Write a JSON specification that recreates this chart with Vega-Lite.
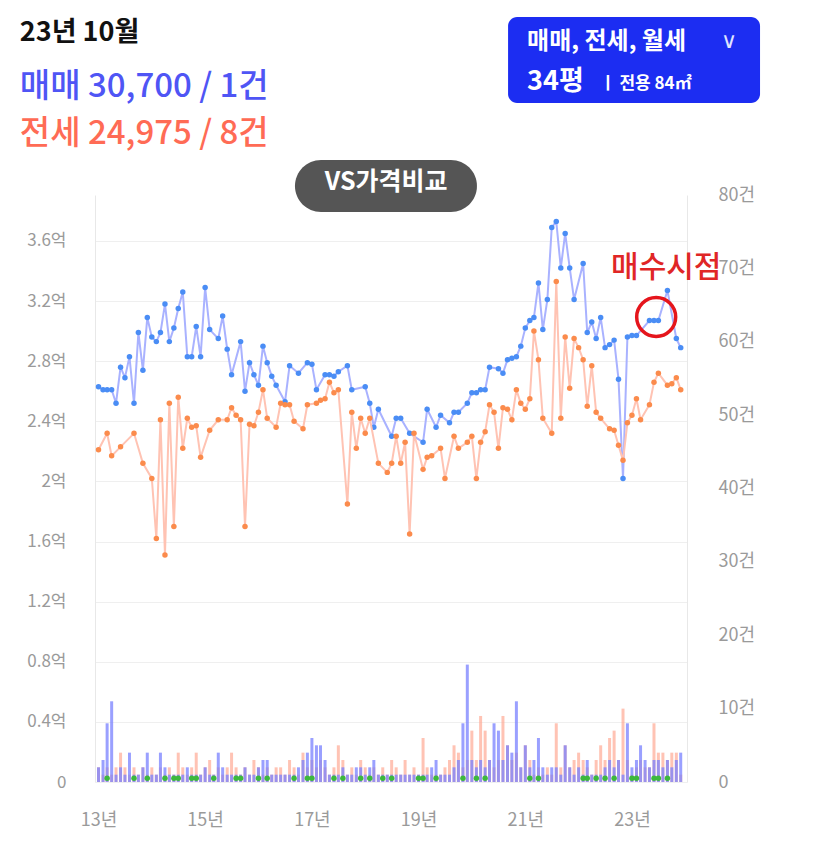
{
  "$schema": "https://vega.github.io/schema/vega-lite/v6.json",
  "width": 592,
  "height": 587,
  "autosize": {"type": "none"},
  "padding": {"left": 95, "top": 195, "right": 140, "bottom": 72},
  "background": "white",
  "config": {
    "view": {"stroke": null},
    "font": "Noto Sans CJK KR",
    "axis": {"ticks": false, "labelFont": "Noto Sans CJK KR", "labelColor": "#9a9a9a", "labelFontSize": 17, "domainColor": "#e8e8e8", "gridColor": "#efefef", "title": null}
  },
  "datasets": {
    "sale": [
      {"d":"2013-01-01","p":2.63},{"d":"2013-02-01","p":2.61},{"d":"2013-03-01","p":2.61},{"d":"2013-04-01","p":2.61},{"d":"2013-05-01","p":2.52},{"d":"2013-06-01","p":2.76},{"d":"2013-07-01","p":2.69},{"d":"2013-08-01","p":2.83},{"d":"2013-09-01","p":2.52},{"d":"2013-10-01","p":2.99},{"d":"2013-11-01","p":2.74},{"d":"2013-12-01","p":3.09},
      {"d":"2014-01-01","p":2.96},{"d":"2014-02-01","p":2.93},{"d":"2014-03-01","p":2.99},{"d":"2014-04-01","p":3.18},{"d":"2014-05-01","p":2.93},{"d":"2014-06-01","p":3.02},{"d":"2014-07-01","p":3.15},{"d":"2014-08-01","p":3.26},{"d":"2014-09-01","p":2.83},{"d":"2014-10-01","p":2.83},{"d":"2014-11-01","p":3.03},{"d":"2014-12-01","p":2.83},
      {"d":"2015-01-01","p":3.29},{"d":"2015-02-01","p":3.01},{"d":"2015-04-01","p":2.95},{"d":"2015-05-01","p":3.10},{"d":"2015-06-01","p":2.88},{"d":"2015-07-01","p":2.71},{"d":"2015-09-01","p":2.93},{"d":"2015-10-01","p":2.60},{"d":"2015-11-01","p":2.79},{"d":"2015-12-01","p":2.71},
      {"d":"2016-01-01","p":2.64},{"d":"2016-02-01","p":2.90},{"d":"2016-03-01","p":2.79},{"d":"2016-04-01","p":2.70},{"d":"2016-05-01","p":2.64},{"d":"2016-07-01","p":2.53},{"d":"2016-08-01","p":2.77},{"d":"2016-10-01","p":2.72},{"d":"2016-12-01","p":2.79},
      {"d":"2017-01-01","p":2.78},{"d":"2017-02-01","p":2.61},{"d":"2017-04-01","p":2.71},{"d":"2017-05-01","p":2.71},{"d":"2017-06-01","p":2.70},{"d":"2017-07-01","p":2.73},{"d":"2017-09-01","p":2.77},{"d":"2017-10-01","p":2.61},
      {"d":"2018-01-01","p":2.63},{"d":"2018-02-01","p":2.52},{"d":"2018-03-01","p":2.36},{"d":"2018-04-01","p":2.48},{"d":"2018-07-01","p":2.30},{"d":"2018-08-01","p":2.42},{"d":"2018-09-01","p":2.42},{"d":"2018-11-01","p":2.32},
      {"d":"2019-02-01","p":2.26},{"d":"2019-03-01","p":2.48},{"d":"2019-05-01","p":2.36},{"d":"2019-06-01","p":2.44},{"d":"2019-08-01","p":2.39},{"d":"2019-09-01","p":2.46},{"d":"2019-10-01","p":2.46},{"d":"2019-12-01","p":2.52},
      {"d":"2020-01-01","p":2.59},{"d":"2020-02-01","p":2.59},{"d":"2020-03-01","p":2.61},{"d":"2020-04-01","p":2.61},{"d":"2020-05-01","p":2.76},{"d":"2020-07-01","p":2.75},{"d":"2020-08-01","p":2.72},{"d":"2020-09-01","p":2.81},{"d":"2020-10-01","p":2.82},{"d":"2020-11-01","p":2.83},{"d":"2020-12-01","p":2.90},
      {"d":"2021-01-01","p":3.02},{"d":"2021-02-01","p":3.07},{"d":"2021-03-01","p":3.09},{"d":"2021-04-01","p":3.32},{"d":"2021-05-01","p":3.01},{"d":"2021-06-01","p":3.21},{"d":"2021-07-01","p":3.69},{"d":"2021-08-01","p":3.73},{"d":"2021-09-01","p":3.42},{"d":"2021-10-01","p":3.65},{"d":"2021-11-01","p":3.42},{"d":"2021-12-01","p":3.21},
      {"d":"2022-02-01","p":3.45},{"d":"2022-03-01","p":2.99},{"d":"2022-04-01","p":3.06},{"d":"2022-05-01","p":2.95},{"d":"2022-06-01","p":3.09},{"d":"2022-07-01","p":2.89},{"d":"2022-08-01","p":2.91},{"d":"2022-09-01","p":2.94},{"d":"2022-10-01","p":2.68},{"d":"2022-11-01","p":2.02},{"d":"2022-12-01","p":2.96},
      {"d":"2023-01-01","p":2.97},{"d":"2023-02-01","p":2.97},{"d":"2023-05-01","p":3.07},{"d":"2023-06-01","p":3.07},{"d":"2023-07-01","p":3.07},{"d":"2023-09-01","p":3.27},{"d":"2023-11-01","p":2.95},{"d":"2023-12-01","p":2.89}
    ],
    "jeonse": [
      {"d":"2013-01-01","p":2.21},{"d":"2013-03-01","p":2.32},{"d":"2013-04-01","p":2.17},{"d":"2013-06-01","p":2.23},{"d":"2013-09-01","p":2.32},{"d":"2013-11-01","p":2.12},
      {"d":"2014-01-01","p":2.02},{"d":"2014-02-01","p":1.62},{"d":"2014-03-01","p":2.41},{"d":"2014-04-01","p":1.51},{"d":"2014-05-01","p":2.52},{"d":"2014-06-01","p":1.70},{"d":"2014-07-01","p":2.56},{"d":"2014-08-01","p":2.22},{"d":"2014-09-01","p":2.42},{"d":"2014-10-01","p":2.36},{"d":"2014-11-01","p":2.37},{"d":"2014-12-01","p":2.16},
      {"d":"2015-02-01","p":2.34},{"d":"2015-04-01","p":2.41},{"d":"2015-06-01","p":2.41},{"d":"2015-07-01","p":2.49},{"d":"2015-08-01","p":2.44},{"d":"2015-09-01","p":2.41},{"d":"2015-10-01","p":1.70},{"d":"2015-11-01","p":2.38},{"d":"2015-12-01","p":2.37},
      {"d":"2016-01-01","p":2.46},{"d":"2016-02-01","p":2.61},{"d":"2016-03-01","p":2.42},{"d":"2016-05-01","p":2.36},{"d":"2016-06-01","p":2.52},{"d":"2016-07-01","p":2.51},{"d":"2016-08-01","p":2.51},{"d":"2016-09-01","p":2.40},{"d":"2016-11-01","p":2.35},{"d":"2016-12-01","p":2.51},
      {"d":"2017-02-01","p":2.52},{"d":"2017-03-01","p":2.54},{"d":"2017-04-01","p":2.55},{"d":"2017-05-01","p":2.66},{"d":"2017-06-01","p":2.59},{"d":"2017-07-01","p":2.61},{"d":"2017-09-01","p":1.85},{"d":"2017-10-01","p":2.46},{"d":"2017-11-01","p":2.22},{"d":"2017-12-01","p":2.42},
      {"d":"2018-01-01","p":2.32},{"d":"2018-02-01","p":2.42},{"d":"2018-04-01","p":2.12},{"d":"2018-06-01","p":2.06},{"d":"2018-07-01","p":2.12},{"d":"2018-08-01","p":2.30},{"d":"2018-09-01","p":2.12},{"d":"2018-10-01","p":2.26},{"d":"2018-11-01","p":1.65},{"d":"2018-12-01","p":2.32},
      {"d":"2019-02-01","p":2.08},{"d":"2019-03-01","p":2.16},{"d":"2019-04-01","p":2.17},{"d":"2019-06-01","p":2.22},{"d":"2019-07-01","p":2.02},{"d":"2019-09-01","p":2.30},{"d":"2019-10-01","p":2.22},{"d":"2019-12-01","p":2.26},
      {"d":"2020-01-01","p":2.30},{"d":"2020-02-01","p":2.02},{"d":"2020-03-01","p":2.26},{"d":"2020-04-01","p":2.33},{"d":"2020-05-01","p":2.51},{"d":"2020-06-01","p":2.46},{"d":"2020-07-01","p":2.22},{"d":"2020-08-01","p":2.49},{"d":"2020-09-01","p":2.48},{"d":"2020-10-01","p":2.41},{"d":"2020-11-01","p":2.61},{"d":"2020-12-01","p":2.52},
      {"d":"2021-01-01","p":2.48},{"d":"2021-02-01","p":2.55},{"d":"2021-03-01","p":3.00},{"d":"2021-04-01","p":2.81},{"d":"2021-05-01","p":2.42},{"d":"2021-07-01","p":2.32},{"d":"2021-08-01","p":3.33},{"d":"2021-09-01","p":2.42},{"d":"2021-10-01","p":2.96},{"d":"2021-11-01","p":2.62},{"d":"2021-12-01","p":2.95},
      {"d":"2022-01-01","p":2.89},{"d":"2022-02-01","p":2.81},{"d":"2022-03-01","p":2.50},{"d":"2022-04-01","p":2.77},{"d":"2022-05-01","p":2.46},{"d":"2022-06-01","p":2.42},{"d":"2022-08-01","p":2.35},{"d":"2022-09-01","p":2.34},{"d":"2022-10-01","p":2.24},{"d":"2022-11-01","p":2.14},{"d":"2022-12-01","p":2.39},
      {"d":"2023-01-01","p":2.44},{"d":"2023-02-01","p":2.55},{"d":"2023-03-01","p":2.41},{"d":"2023-05-01","p":2.51},{"d":"2023-06-01","p":2.66},{"d":"2023-07-01","p":2.72},{"d":"2023-09-01","p":2.64},{"d":"2023-10-01","p":2.65},{"d":"2023-11-01","p":2.69},{"d":"2023-12-01","p":2.61}
    ],
    "rent": [
      {"d":"2013-03-01","p":0.025},{"d":"2013-09-01","p":0.025},{"d":"2013-12-01","p":0.025},{"d":"2014-04-01","p":0.025},{"d":"2014-06-01","p":0.025},{"d":"2014-07-01","p":0.025},{"d":"2014-10-01","p":0.025},{"d":"2014-11-01","p":0.025},{"d":"2015-03-01","p":0.025},{"d":"2015-08-01","p":0.025},{"d":"2015-09-01","p":0.025},{"d":"2016-01-01","p":0.025},{"d":"2016-03-01","p":0.025},{"d":"2016-09-01","p":0.025},{"d":"2016-12-01","p":0.025},{"d":"2017-01-01","p":0.025},{"d":"2017-06-01","p":0.025},{"d":"2017-08-01","p":0.025},{"d":"2017-12-01","p":0.025},{"d":"2018-02-01","p":0.025},{"d":"2018-05-01","p":0.025},{"d":"2018-07-01","p":0.025},{"d":"2019-01-01","p":0.025},{"d":"2019-02-01","p":0.025},{"d":"2019-05-01","p":0.025},{"d":"2019-11-01","p":0.025},{"d":"2020-02-01","p":0.025},{"d":"2020-04-01","p":0.025},{"d":"2021-02-01","p":0.025},{"d":"2021-04-01","p":0.025},{"d":"2022-02-01","p":0.025},{"d":"2022-03-01","p":0.025},{"d":"2022-05-01","p":0.025},{"d":"2022-07-01","p":0.025},{"d":"2022-09-01","p":0.025},{"d":"2023-01-01","p":0.025},{"d":"2023-02-01","p":0.025},{"d":"2023-06-01","p":0.025},{"d":"2023-07-01","p":0.025},{"d":"2023-09-01","p":0.025}
    ],
    "cnt": [
      {"d":"2013-01-01","s":2,"j":2},{"d":"2013-02-01","s":3,"j":1},{"d":"2013-03-01","s":8,"j":2},{"d":"2013-04-01","s":11,"j":1},{"d":"2013-05-01","s":1,"j":2},{"d":"2013-06-01","s":2,"j":4},{"d":"2013-07-01","s":1,"j":2},{"d":"2013-08-01","s":4,"j":1},{"d":"2013-09-01","s":1,"j":2},{"d":"2013-10-01","s":1,"j":1},{"d":"2013-11-01","s":2,"j":2},{"d":"2013-12-01","s":4,"j":1},
      {"d":"2014-01-01","s":1,"j":2},{"d":"2014-02-01","s":1,"j":1},{"d":"2014-03-01","s":4,"j":2},{"d":"2014-04-01","s":2,"j":1},{"d":"2014-05-01","s":1,"j":2},{"d":"2014-06-01","s":1,"j":1},{"d":"2014-07-01","s":1,"j":4},{"d":"2014-08-01","s":1,"j":2},{"d":"2014-09-01","s":2,"j":1},{"d":"2014-10-01","s":1,"j":2},{"d":"2014-11-01","s":1,"j":4},{"d":"2014-12-01","s":1,"j":1},
      {"d":"2015-01-01","s":2,"j":2},{"d":"2015-02-01","s":1,"j":3},{"d":"2015-03-01","s":1,"j":1},{"d":"2015-04-01","s":4,"j":2},{"d":"2015-05-01","s":2,"j":1},{"d":"2015-06-01","s":1,"j":2},{"d":"2015-07-01","s":1,"j":4},{"d":"2015-08-01","s":1,"j":2},{"d":"2015-09-01","s":1,"j":1},{"d":"2015-10-01","s":2,"j":2},{"d":"2015-11-01","s":1,"j":1},{"d":"2015-12-01","s":1,"j":3},
      {"d":"2016-01-01","s":2,"j":2},{"d":"2016-02-01","s":3,"j":1},{"d":"2016-03-01","s":3,"j":2},{"d":"2016-04-01","s":1,"j":1},{"d":"2016-05-01","s":1,"j":2},{"d":"2016-06-01","s":1,"j":2},{"d":"2016-07-01","s":1,"j":1},{"d":"2016-08-01","s":1,"j":3},{"d":"2016-09-01","s":1,"j":2},{"d":"2016-10-01","s":2,"j":1},{"d":"2016-11-01","s":3,"j":4},{"d":"2016-12-01","s":4,"j":2},
      {"d":"2017-01-01","s":6,"j":3},{"d":"2017-02-01","s":5,"j":2},{"d":"2017-03-01","s":5,"j":3},{"d":"2017-04-01","s":3,"j":2},{"d":"2017-05-01","s":1,"j":1},{"d":"2017-06-01","s":1,"j":2},{"d":"2017-07-01","s":1,"j":5},{"d":"2017-08-01","s":2,"j":3},{"d":"2017-09-01","s":1,"j":1},{"d":"2017-10-01","s":1,"j":2},{"d":"2017-11-01","s":2,"j":1},{"d":"2017-12-01","s":2,"j":3},
      {"d":"2018-01-01","s":1,"j":2},{"d":"2018-02-01","s":2,"j":1},{"d":"2018-03-01","s":3,"j":2},{"d":"2018-04-01","s":1,"j":1},{"d":"2018-05-01","s":1,"j":2},{"d":"2018-06-01","s":1,"j":1},{"d":"2018-07-01","s":1,"j":3},{"d":"2018-08-01","s":1,"j":2},{"d":"2018-09-01","s":1,"j":1},{"d":"2018-10-01","s":1,"j":3},{"d":"2018-11-01","s":1,"j":1},{"d":"2018-12-01","s":1,"j":2},
      {"d":"2019-01-01","s":1,"j":1},{"d":"2019-02-01","s":1,"j":6},{"d":"2019-03-01","s":1,"j":2},{"d":"2019-04-01","s":2,"j":1},{"d":"2019-05-01","s":3,"j":1},{"d":"2019-06-01","s":1,"j":1},{"d":"2019-07-01","s":1,"j":2},{"d":"2019-08-01","s":1,"j":3},{"d":"2019-09-01","s":2,"j":5},{"d":"2019-10-01","s":3,"j":4},{"d":"2019-11-01","s":8,"j":2},{"d":"2019-12-01","s":16,"j":3},
      {"d":"2020-01-01","s":3,"j":7},{"d":"2020-02-01","s":2,"j":3},{"d":"2020-03-01","s":3,"j":9},{"d":"2020-04-01","s":2,"j":7},{"d":"2020-05-01","s":3,"j":3},{"d":"2020-06-01","s":8,"j":2},{"d":"2020-07-01","s":7,"j":3},{"d":"2020-08-01","s":3,"j":9},{"d":"2020-09-01","s":5,"j":5},{"d":"2020-10-01","s":4,"j":3},{"d":"2020-11-01","s":11,"j":4},{"d":"2020-12-01","s":2,"j":2},
      {"d":"2021-01-01","s":5,"j":5},{"d":"2021-02-01","s":2,"j":3},{"d":"2021-03-01","s":3,"j":1},{"d":"2021-04-01","s":6,"j":2},{"d":"2021-05-01","s":2,"j":1},{"d":"2021-06-01","s":1,"j":2},{"d":"2021-07-01","s":2,"j":1},{"d":"2021-08-01","s":2,"j":8},{"d":"2021-09-01","s":1,"j":2},{"d":"2021-10-01","s":5,"j":5},{"d":"2021-11-01","s":2,"j":2},{"d":"2021-12-01","s":1,"j":3},
      {"d":"2022-01-01","s":2,"j":4},{"d":"2022-02-01","s":1,"j":3},{"d":"2022-03-01","s":3,"j":2},{"d":"2022-04-01","s":1,"j":1},{"d":"2022-05-01","s":1,"j":3},{"d":"2022-06-01","s":1,"j":5},{"d":"2022-07-01","s":2,"j":3},{"d":"2022-08-01","s":3,"j":6},{"d":"2022-09-01","s":2,"j":7},{"d":"2022-10-01","s":3,"j":3},{"d":"2022-11-01","s":1,"j":10},{"d":"2022-12-01","s":8,"j":3},
      {"d":"2023-01-01","s":2,"j":1},{"d":"2023-02-01","s":3,"j":2},{"d":"2023-03-01","s":5,"j":3},{"d":"2023-04-01","s":3,"j":2},{"d":"2023-05-01","s":2,"j":2},{"d":"2023-06-01","s":3,"j":8},{"d":"2023-07-01","s":3,"j":4},{"d":"2023-08-01","s":2,"j":4},{"d":"2023-09-01","s":3,"j":3},{"d":"2023-10-01","s":2,"j":4},{"d":"2023-11-01","s":3,"j":4},{"d":"2023-12-01","s":4,"j":1}
    ],
    "boxBlue": [{"d":"2020-09-05","d2":"2025-05-27","p":5.09,"p2":4.518}],
    "boxPill": [{"d":"2016-09-07","d2":"2020-02-05","p":4.138,"p2":3.792}],
    "hdrDate": [{"d":"2011-07-12","p":4.983,"t":"23년 10월"}],
    "hdrSale": [{"d":"2011-07-12","p":4.624,"t":"매매 30,700 / 1건"}],
    "hdrJeonse": [{"d":"2011-07-12","p":4.311,"t":"전세 24,975 / 8건"}],
    "btnType": [{"d":"2021-01-13","p":4.923,"t":"매매, 전세, 월세"}],
    "btnChev": [{"d":"2024-10-27","p":4.93,"t":"∨"}],
    "btnSize": [{"d":"2021-01-13","p":4.657,"t":"34평"}],
    "btnArea": [{"d":"2022-05-27","p":4.644,"t":"ㅣ 전용 84㎡"}],
    "pillText": [{"d":"2018-05-24","p":3.992,"t":"VS가격비교"}],
    "buyNote": [{"d":"2022-08-11","p":3.42,"t":"매수시점"}],
    "buyCircle": [{"d":"2023-06-16","p":3.094}]
  },
  "layer": [
    {
      "data": {"name": "cnt"},
      "encoding": {
        "x": {"field": "d", "type": "temporal",
          "scale": {"type": "utc", "padding": 0, "nice": false, "domain": [{"year": 2012, "month": 12, "date": 8, "utc": true}, {"year": 2024, "month": 1, "date": 13, "utc": true}]},
          "axis": {"values": [{"year": 2013, "utc": true}, {"year": 2015, "utc": true}, {"year": 2017, "utc": true}, {"year": 2019, "utc": true}, {"year": 2021, "utc": true}, {"year": 2023, "utc": true}], "labelExpr": "utcFormat(datum.value, '%y') + '년'", "domain": false, "grid": false, "labelPadding": 29, "labelFontSize": 18}}
      },
      "layer": [
        {"mark": {"type": "bar", "size": 3, "color": "#ffa994", "opacity": 0.7},
         "encoding": {"y": {"field": "j", "type": "quantitative", "scale": {"domain": [0, 80], "nice": false}, "axis": {"orient": "right", "values": [0, 10, 20, 30, 40, 50, 60, 70, 80], "labelExpr": "datum.value == 0 ? '0' : datum.value + '건'", "grid": false, "domain": true, "labelPadding": 31, "labelAlign": "left", "labelFontSize": 18}}}},
        {"mark": {"type": "bar", "size": 3, "color": "#7880ff", "opacity": 0.75},
         "encoding": {"y": {"field": "s", "type": "quantitative", "scale": {"domain": [0, 80], "nice": false}, "axis": {"orient": "right", "values": [0, 10, 20, 30, 40, 50, 60, 70, 80], "labelExpr": "datum.value == 0 ? '0' : datum.value + '건'", "grid": false, "domain": true, "labelPadding": 31, "labelAlign": "left", "labelFontSize": 18}}}}
      ]
    },
    {
      "encoding": {
        "x": {"field": "d", "type": "temporal",
          "scale": {"type": "utc", "padding": 0, "nice": false, "domain": [{"year": 2012, "month": 12, "date": 8, "utc": true}, {"year": 2024, "month": 1, "date": 13, "utc": true}]},
          "axis": {"values": [{"year": 2013, "utc": true}, {"year": 2015, "utc": true}, {"year": 2017, "utc": true}, {"year": 2019, "utc": true}, {"year": 2021, "utc": true}, {"year": 2023, "utc": true}], "labelExpr": "utcFormat(datum.value, '%y') + '년'", "domain": false, "grid": false, "labelPadding": 29, "labelFontSize": 18}},
        "y": {"field": "p", "type": "quantitative", "scale": {"domain": [0, 3.9055], "nice": false, "zero": true},
          "axis": {"orient": "left", "values": [0, 0.4, 0.8, 1.2, 1.6, 2, 2.4, 2.8, 3.2, 3.6], "labelExpr": "datum.value == 0 ? '0' : datum.value + '억'", "grid": true, "domain": true, "labelPadding": 29, "labelFontSize": 17}}
      },
      "layer": [
        {"data": {"name": "rent"}, "mark": {"type": "point", "filled": true, "shape": "circle", "size": 30, "color": "#3db83d", "opacity": 1}},
        {"data": {"name": "sale"}, "mark": {"type": "line", "color": "#a9b2ff", "strokeWidth": 2, "point": {"filled": true, "size": 30, "color": "#4a8df5", "opacity": 1}}},
        {"data": {"name": "jeonse"}, "mark": {"type": "line", "color": "#ffc3b3", "strokeWidth": 2, "point": {"filled": true, "size": 30, "color": "#fb8b4c", "opacity": 1}}},
        {"data": {"name": "buyCircle"}, "mark": {"type": "point", "shape": "circle", "filled": false, "size": 1521, "stroke": "#e5151c", "strokeWidth": 3.5, "opacity": 1}},
        {"data": {"name": "buyNote"}, "mark": {"type": "text", "align": "left", "baseline": "middle", "fontSize": 30, "fontWeight": 500, "color": "#e02626", "font": "Noto Sans CJK KR"}, "encoding": {"text": {"field": "t"}}},
        {"data": {"name": "boxPill"}, "mark": {"type": "rect", "color": "#555555", "cornerRadius": 26, "opacity": 1}, "encoding": {"x2": {"field": "d2"}, "y2": {"field": "p2"}}},
        {"data": {"name": "pillText"}, "mark": {"type": "text", "align": "center", "baseline": "middle", "fontSize": 25, "fontWeight": "bold", "color": "#ffffff", "font": "Noto Sans CJK KR"}, "encoding": {"text": {"field": "t"}}},
        {"data": {"name": "boxBlue"}, "mark": {"type": "rect", "color": "#1c2df2", "cornerRadius": 9, "opacity": 1}, "encoding": {"x2": {"field": "d2"}, "y2": {"field": "p2"}}},
        {"data": {"name": "btnType"}, "mark": {"type": "text", "align": "left", "baseline": "middle", "fontSize": 24, "fontWeight": "bold", "color": "#ffffff", "font": "Noto Sans CJK KR"}, "encoding": {"text": {"field": "t"}}},
        {"data": {"name": "btnChev"}, "mark": {"type": "text", "align": "center", "baseline": "middle", "fontSize": 22, "color": "#dfe3ff", "font": "DejaVu Sans"}, "encoding": {"text": {"field": "t"}}},
        {"data": {"name": "btnSize"}, "mark": {"type": "text", "align": "left", "baseline": "middle", "fontSize": 27, "fontWeight": "bold", "color": "#ffffff", "font": "Noto Sans CJK KR"}, "encoding": {"text": {"field": "t"}}},
        {"data": {"name": "btnArea"}, "mark": {"type": "text", "align": "left", "baseline": "middle", "fontSize": 17, "fontWeight": "bold", "color": "#ffffff", "font": "Noto Sans CJK KR"}, "encoding": {"text": {"field": "t"}}},
        {"data": {"name": "hdrDate"}, "mark": {"type": "text", "align": "left", "baseline": "middle", "fontSize": 27, "fontWeight": "bold", "color": "#111111", "font": "Noto Sans CJK KR"}, "encoding": {"text": {"field": "t"}}},
        {"data": {"name": "hdrSale"}, "mark": {"type": "text", "align": "left", "baseline": "middle", "fontSize": 33, "fontWeight": 500, "color": "#4f55f5", "font": "Noto Sans CJK KR"}, "encoding": {"text": {"field": "t"}}},
        {"data": {"name": "hdrJeonse"}, "mark": {"type": "text", "align": "left", "baseline": "middle", "fontSize": 33, "fontWeight": 500, "color": "#ff6b55", "font": "Noto Sans CJK KR"}, "encoding": {"text": {"field": "t"}}}
      ]
    }
  ],
  "resolve": {"scale": {"y": "independent"}}
}
